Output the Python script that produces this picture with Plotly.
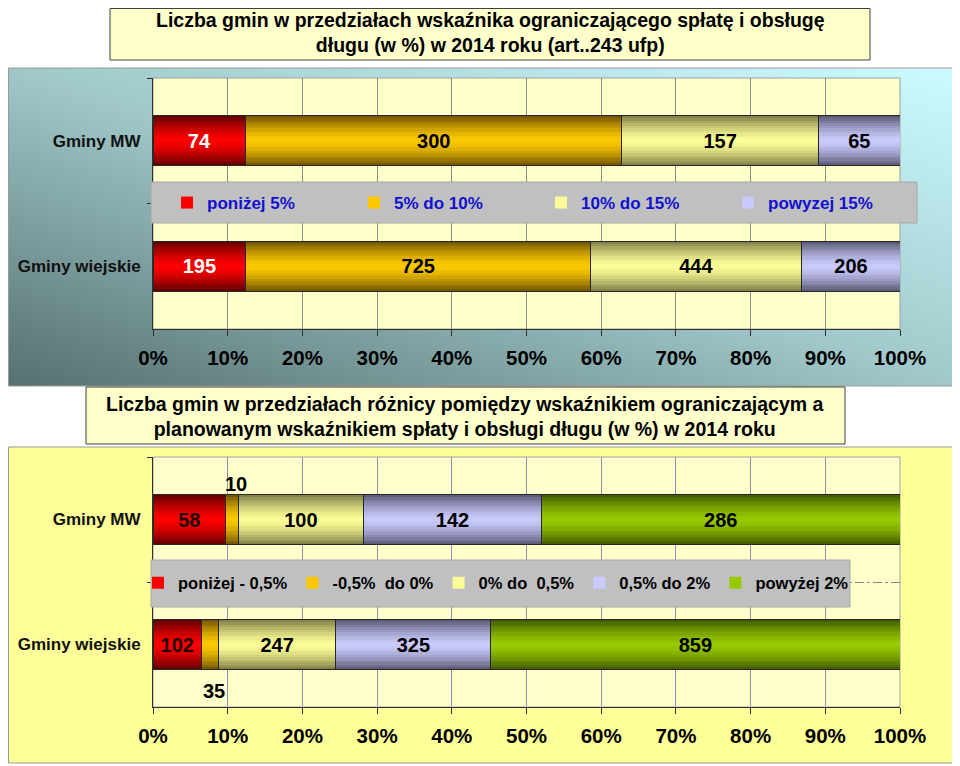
import base64
import plotly.graph_objects as go

W, H = 960, 766
OFF = 8  # margines body strony

categories = ['Gminy MW', 'Gminy wiejskie']

# wykres 1 - wskaznik ograniczajacy (art. 243 ufp)
top_names = ['poniżej 5%', '5% do 10%', '10% do 15%', 'powyzej 15%']
top_mw = [74, 300, 157, 65]
top_wiejskie = [195, 725, 444, 206]
top_colors = ['#ff0000', '#ffcc00', '#ffff99', '#ccccff']
top_edges = ['#660000', '#765800', '#84844a', '#5e5e7a']
top_textcolors = ['white', 'black', 'black', 'black']

# wykres 2 - roznica miedzy wskaznikiem ograniczajacym a planowanym
bot_names = ['poniżej - 0,5%', '-0,5%\u00a0 do 0%', '0% do\u00a0 0,5%', '0,5% do 2%', 'powyżej 2%']
bot_mw = [58, 10, 100, 142, 286]
bot_wiejskie = [102, 35, 247, 325, 859]
bot_colors = ['#ff0000', '#ffcc00', '#ffff99', '#ccccff', '#99cc00']
bot_edges = ['#660000', '#765800', '#84844a', '#5e5e7a', '#445e00']
bot_textcolors = ['#200000', 'black', 'black', 'black', 'black']
bot_small = 1  # segment z etykieta poza slupkiem

tick_vals = [0, 10, 20, 30, 40, 50, 60, 70, 80, 90, 100]
tick_labels = ['0%', '10%', '20%', '30%', '40%', '50%', '60%', '70%', '80%', '90%', '100%']

FONT = 'Liberation Sans, Arial, sans-serif'
BAR_W = 0.4
# cieniowanie "walca": szerokosc warstwy / udzial koloru krawedzi
shade_w = [1.0, 0.9, 0.8, 0.7, 0.6, 0.5, 0.4, 0.3, 0.2, 0.1]
shade_t = [w ** 1.5 for w in shade_w]


def px(x):
    return (x - OFF) / W


def py(y):
    return 1 - (y - OFF) / H


def mix(c1, c2, t):
    a = [int(c1[i:i + 2], 16) for i in (1, 3, 5)]
    b = [int(c2[i:i + 2], 16) for i in (1, 3, 5)]
    return 'rgb(%d,%d,%d)' % tuple(round(a[k] * (1 - t) + b[k] * t) for k in range(3))


fig = go.Figure()
layout_axes = {}
next_ax = [3]


def new_overlay(base_x, base_y):
    n = next_ax[0]
    next_ax[0] += 1
    layout_axes['xaxis%d' % n] = dict(overlaying=base_x, anchor='y%d' % n, range=[0, 100],
                                      visible=False, showgrid=False, automargin=False)
    layout_axes['yaxis%d' % n] = dict(overlaying=base_y, anchor='x%d' % n, type='category',
                                      categoryorder='array', categoryarray=categories,
                                      range=[1.5, -0.5], visible=False, showgrid=False,
                                      automargin=False)
    return 'x%d' % n, 'y%d' % n


def add_panel(names, mw, wiejskie, colors, edges, textcolors, bx, by, leg, small=None):
    n_layers = len(shade_w)
    for k in range(n_layers + 1):
        if k == 0:
            xa, ya = bx, by
        else:
            xa, ya = new_overlay(bx, by)
        for i, name in enumerate(names):
            vals = [mw[i], wiejskie[i]]
            if k < n_layers:
                fig.add_trace(go.Bar(
                    name=name, y=categories, x=vals, orientation='h',
                    xaxis=xa, yaxis=ya, legend=leg, width=BAR_W * shade_w[k],
                    showlegend=(k == n_layers - 1), hoverinfo='skip',
                    marker=dict(color=mix(colors[i], edges[i], shade_t[k]),
                                line=dict(width=0)),
                ))
            else:
                txt = ['', ''] if i == small else [str(v) for v in vals]
                fig.add_trace(go.Bar(
                    name=name, y=categories, x=vals, orientation='h',
                    xaxis=xa, yaxis=ya, legend=leg, width=BAR_W, showlegend=False,
                    marker=dict(color='rgba(0,0,0,0)', line=dict(color='#262626', width=1)),
                    text=txt, textposition='inside',
                    insidetextanchor='middle', textangle=0, constraintext='none',
                    textfont=dict(size=20, color=textcolors[i], weight='bold', family=FONT),
                ))


add_panel(top_names, top_mw, top_wiejskie, top_colors, top_edges, top_textcolors,
          'x', 'y', 'legend')
add_panel(bot_names, bot_mw, bot_wiejskie, bot_colors, bot_edges, bot_textcolors,
          'x2', 'y2', 'legend2', bot_small)

# etykiety malych segmentow (10 i 35) - nad / pod slupkiem
annotations = []
for cat, row, shift in [(categories[0], bot_mw, 36), (categories[1], bot_wiejskie, -46)]:
    tot = sum(row)
    mid = (sum(row[:bot_small]) + row[bot_small] / 2) / tot * 100
    annotations.append(dict(
        x=mid, y=cat, xref='x2', yref='y2', text=str(row[bot_small]),
        showarrow=False, yshift=shift, xshift=4,
        font=dict(size=20, color='black', weight='bold', family=FONT)))

annotations.append(dict(
    x=px(490), y=py(32), xref='paper', yref='paper', showarrow=False,
    xanchor='center', yanchor='middle',
    text='Liczba gmin w przedziałach wskaźnika ograniczającego spłatę i obsługę<br>'
         'długu (w %) w 2014 roku (art..243 ufp)',
    font=dict(size=19.5, color='black', weight='bold', family=FONT), align='center'))
annotations.append(dict(
    x=px(465), y=py(417), xref='paper', yref='paper', showarrow=False,
    xanchor='center', yanchor='middle',
    text='Liczba gmin w przedziałach różnicy pomiędzy wskaźnikiem ograniczającym a<br>'
         'planowanym wskaźnikiem spłaty i obsługi długu (w %) w 2014 roku',
    font=dict(size=19.5, color='black', weight='bold', family=FONT), align='center'))

# tlo gornego panelu - gradient ukosny
svg = ('<svg xmlns="http://www.w3.org/2000/svg" width="949" height="318" viewBox="0 0 949 318" '
       'preserveAspectRatio="none"><defs><linearGradient id="g" x1="0" y1="1" x2="1" y2="0">'
       '<stop offset="0" stop-color="#567070"/><stop offset="0.5" stop-color="#a0c8ca"/>'
       '<stop offset="1" stop-color="#ccfcff"/></linearGradient></defs>'
       '<rect width="949" height="318" fill="url(#g)"/></svg>')
img_src = 'data:image/svg+xml;base64,' + base64.b64encode(svg.encode()).decode()


def rect(x0, y0, x1, y1, fill, line, layer='below'):
    x0 = max(x0, OFF + 0.5)
    y0 = max(y0, OFF + 0.5)
    return dict(type='rect', xref='paper', yref='paper',
                x0=px(x0), x1=px(x1), y0=py(y1), y1=py(y0),
                fillcolor=fill, line=dict(color=line, width=1), layer=layer)


shapes = [
    rect(3, 68, 957, 386, 'rgba(0,0,0,0)', '#9a9a9a'),
    rect(3, 447, 957, 763, '#ffff99', '#9a9a9a'),
    rect(153, 78, 900, 329, '#ffffcc', '#a0a0a0'),
    rect(153, 457, 900, 707, '#ffffcc', '#a0a0a0'),
    rect(110, 2, 870, 60, '#ffffcc', '#404040'),
    rect(86, 387, 845, 444, '#ffffcc', '#404040'),
    rect(151, 182, 917, 223, '#c0c0c0', '#a8a8a8', 'above'),
    rect(151, 560, 850, 607, '#c0c0c0', '#a8a8a8', 'above'),
]

xcommon = dict(range=[0, 100], tickvals=tick_vals, ticktext=tick_labels, automargin=False,
               showline=True, linecolor='#303030', ticks='outside', ticklen=6,
               tickcolor='#303030', ticklabelstandoff=4, showgrid=True, zeroline=False,
               tickfont=dict(size=20.5, color='black', weight='bold', family=FONT))
ycommon = dict(type='category', categoryorder='array', categoryarray=categories,
               range=[1.5, -0.5], showline=True, linecolor='#303030', automargin=False,
               ticks='outside', ticklen=5, tickcolor='#303030', tickson='boundaries',
               ticklabelstandoff=8,
               tickfont=dict(size=17, color='#111111', weight='bold', family=FONT))

fig.update_layout(
    width=W, height=H, margin=dict(l=0, r=0, t=0, b=0), autosize=False,
    paper_bgcolor='white', plot_bgcolor='rgba(0,0,0,0)',
    font=dict(family=FONT), showlegend=True,
    barmode='stack', barnorm='percent', bargap=0.6,
    xaxis=dict(domain=[px(153), px(900)], anchor='y', gridcolor='#8c8c8c', **xcommon),
    yaxis=dict(domain=[py(329), py(78)], anchor='x', showgrid=False, **ycommon),
    xaxis2=dict(domain=[px(153), px(900)], anchor='y2', gridcolor='#9090b0', **xcommon),
    yaxis2=dict(domain=[py(707), py(457)], anchor='x2', showgrid=True, gridcolor='#8a8a8a',
                griddash='dashdot', **ycommon),
    legend=dict(orientation='h', x=px(167), y=py(203), xanchor='left', yanchor='middle',
                bgcolor='rgba(0,0,0,0)', traceorder='normal',
                entrywidth=142, entrywidthmode='pixels',
                font=dict(size=17, color='#1010d0', weight='bold', family=FONT)),
    legend2=dict(orientation='h', x=px(138), y=py(583), xanchor='left', yanchor='middle',
                 bgcolor='rgba(0,0,0,0)', traceorder='normal',
                 font=dict(size=16.5, color='black', weight='bold', family=FONT)),
    shapes=shapes,
    annotations=annotations,
    images=[dict(source=img_src, xref='paper', yref='paper', x=px(8), y=py(68),
                 sizex=949 / W, sizey=318 / H, sizing='stretch', layer='below',
                 xanchor='left', yanchor='top')],
    **layout_axes,
)

fig.write_html('out.html')
